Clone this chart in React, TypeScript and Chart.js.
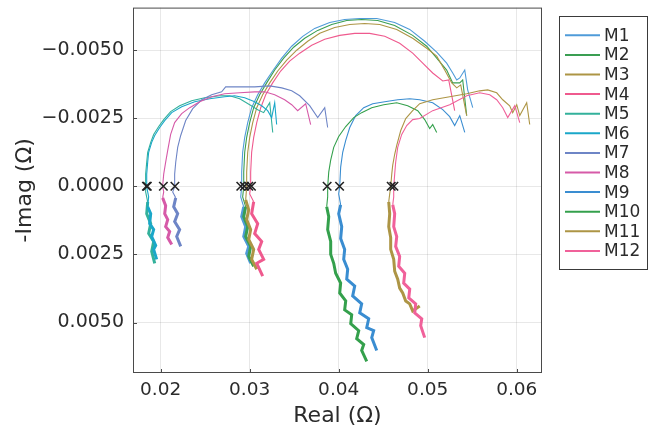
import React, { useEffect, useRef } from "react";
import { Chart, registerables } from "chart.js";

Chart.register(...registerables);

const seriesNames = ["M1", "M2", "M3", "M4", "M5", "M6", "M7", "M8", "M9", "M10", "M11", "M12"];
const seriesColors = ["#4f9bd9", "#3a9e52", "#ad9545", "#ef5a8e", "#33b19b", "#1aa7c9", "#6e85c6", "#d65aa8", "#3a8dd1", "#34a04c", "#ad9545", "#f0619a"];

const m1Real = [0.03011,0.02966,0.02989,0.02933,0.02955,0.02910,0.02933,0.02899,0.02910,0.02910,0.02921,0.02944,0.02978,0.03022,0.03090,0.03169,0.03258,0.03360,0.03472,0.03596,0.03730,0.03899,0.04067,0.04236,0.04427,0.04629,0.04798,0.04966,0.05101,0.05213,0.05281,0.05326,0.05360,0.05416,0.05449,0.05506];
const m1NegImag = [0.002825,0.002462,0.002207,0.001844,0.001480,0.001116,0.000753,0.000389,0.000025,-0.000520,-0.001247,-0.001793,-0.002338,-0.002884,-0.003356,-0.003793,-0.004229,-0.004702,-0.005138,-0.005502,-0.005793,-0.006011,-0.006120,-0.006156,-0.006156,-0.006011,-0.005756,-0.005320,-0.004920,-0.004520,-0.004156,-0.003902,-0.003975,-0.004265,-0.003538,-0.002884];

const m2Real = [0.03045,0.02989,0.03011,0.02955,0.02978,0.02933,0.02955,0.02921,0.02933,0.02933,0.02944,0.02966,0.03000,0.03045,0.03112,0.03191,0.03281,0.03382,0.03494,0.03618,0.03764,0.03921,0.04090,0.04258,0.04438,0.04629,0.04831,0.04989,0.05101,0.05213,0.05281,0.05360,0.05393,0.05438];
const m2NegImag = [0.002935,0.002571,0.002207,0.001844,0.001480,0.001116,0.000753,0.000389,0.000025,-0.000520,-0.001247,-0.001793,-0.002338,-0.002884,-0.003356,-0.003793,-0.004265,-0.004702,-0.005102,-0.005429,-0.005720,-0.005938,-0.006084,-0.006120,-0.006084,-0.005902,-0.005538,-0.005138,-0.004702,-0.004265,-0.003793,-0.003793,-0.003902,-0.002593];

const m3Real = [0.03079,0.03022,0.03045,0.02989,0.03011,0.02966,0.02989,0.02955,0.02966,0.02966,0.02978,0.03000,0.03034,0.03079,0.03146,0.03225,0.03315,0.03416,0.03528,0.03652,0.03787,0.03955,0.04124,0.04292,0.04461,0.04652,0.04831,0.04989,0.05101,0.05191,0.05270,0.05326,0.05371,0.05416,0.05438];
const m3NegImag = [0.003044,0.002680,0.002316,0.001953,0.001589,0.001225,0.000862,0.000498,0.000025,-0.000520,-0.001247,-0.001793,-0.002338,-0.002884,-0.003356,-0.003793,-0.004229,-0.004629,-0.004993,-0.005320,-0.005611,-0.005829,-0.005938,-0.005975,-0.005938,-0.005756,-0.005429,-0.005065,-0.004775,-0.004265,-0.003793,-0.003611,-0.003720,-0.002956,-0.002593];

const m4Real = [0.03146,0.03079,0.03157,0.03101,0.03135,0.03056,0.03090,0.03022,0.03045,0.03000,0.03011,0.03011,0.03022,0.03045,0.03079,0.03124,0.03180,0.03258,0.03348,0.03449,0.03562,0.03697,0.03843,0.04011,0.04180,0.04348,0.04517,0.04685,0.04831,0.04944,0.05056,0.05169,0.05236,0.05303];
const m4NegImag = [0.003298,0.002825,0.002680,0.002316,0.002025,0.001735,0.001371,0.001007,0.000571,0.000280,0.000025,-0.000520,-0.001247,-0.001793,-0.002338,-0.002884,-0.003356,-0.003793,-0.004229,-0.004593,-0.004884,-0.005175,-0.005393,-0.005538,-0.005611,-0.005611,-0.005502,-0.005247,-0.004884,-0.004520,-0.004156,-0.003865,-0.003902,-0.002775];

const m5Real = [0.01933,0.01899,0.01921,0.01865,0.01888,0.01843,0.01854,0.01831,0.01831,0.01831,0.01843,0.01854,0.01888,0.01921,0.01978,0.02034,0.02112,0.02213,0.02348,0.02494,0.02663,0.02775,0.02888,0.03000,0.03090,0.03157,0.03225,0.03259];
const m5NegImag = [0.002825,0.002389,0.002025,0.001735,0.001371,0.001007,0.000571,0.000207,0.000025,-0.000447,-0.000884,-0.001247,-0.001611,-0.001902,-0.002193,-0.002447,-0.002738,-0.002956,-0.003138,-0.003247,-0.003320,-0.003320,-0.003211,-0.002993,-0.002811,-0.002702,-0.003065,-0.001975];

const m6Real = [0.01955,0.01921,0.01944,0.01899,0.01921,0.01876,0.01888,0.01854,0.01865,0.01843,0.01843,0.01854,0.01865,0.01899,0.01933,0.01989,0.02045,0.02124,0.02236,0.02382,0.02551,0.02719,0.02831,0.02944,0.03056,0.03135,0.03202,0.03247,0.03281,0.03303];
const m6NegImag = [0.002680,0.002316,0.002171,0.001844,0.001589,0.001371,0.001007,0.000753,0.000389,0.000025,-0.000447,-0.000884,-0.001247,-0.001611,-0.001865,-0.002156,-0.002411,-0.002702,-0.002920,-0.003102,-0.003211,-0.003284,-0.003320,-0.003247,-0.003102,-0.002956,-0.002775,-0.002520,-0.003065,-0.002265];

const m7Real = [0.02225,0.02180,0.02213,0.02157,0.02191,0.02146,0.02169,0.02135,0.02157,0.02157,0.02169,0.02191,0.02225,0.02281,0.02360,0.02461,0.02573,0.02685,0.02730,0.02888,0.03056,0.03225,0.03360,0.03472,0.03562,0.03674,0.03764,0.03843,0.03876];
const m7NegImag = [0.002207,0.001844,0.001589,0.001298,0.001007,0.000753,0.000425,0.000207,0.000025,-0.000447,-0.000884,-0.001429,-0.001865,-0.002411,-0.002847,-0.003175,-0.003356,-0.003465,-0.003647,-0.003647,-0.003647,-0.003684,-0.003611,-0.003502,-0.003320,-0.002956,-0.002520,-0.002884,-0.002156];

const m8Real = [0.02124,0.02079,0.02101,0.02056,0.02079,0.02045,0.02056,0.02022,0.02034,0.02022,0.02034,0.02056,0.02079,0.02112,0.02157,0.02236,0.02326,0.02438,0.02573,0.02719,0.02888,0.03056,0.03169,0.03281,0.03393,0.03472,0.03539,0.03629,0.03685];
const m8NegImag = [0.002135,0.001880,0.001662,0.001480,0.001225,0.001007,0.000716,0.000425,0.000207,-0.000011,-0.000447,-0.000884,-0.001320,-0.001902,-0.002338,-0.002665,-0.002884,-0.003102,-0.003284,-0.003393,-0.003429,-0.003465,-0.003465,-0.003356,-0.003175,-0.002993,-0.002775,-0.003029,-0.002265];

const m9Real = [0.04427,0.04371,0.04393,0.04315,0.04337,0.04236,0.04258,0.04157,0.04180,0.04090,0.04101,0.04056,0.04067,0.04022,0.04034,0.04000,0.04022,0.04000,0.04011,0.04022,0.04045,0.04079,0.04124,0.04191,0.04281,0.04382,0.04517,0.04663,0.04798,0.04910,0.05056,0.05169,0.05247,0.05303,0.05360,0.05416];
const m9NegImag = [0.006025,0.005553,0.005298,0.005189,0.004862,0.004644,0.004316,0.004025,0.003662,0.003407,0.003044,0.002680,0.002316,0.001916,0.001480,0.001007,0.000680,0.000280,0.000025,-0.000702,-0.001247,-0.001684,-0.002156,-0.002593,-0.002884,-0.003029,-0.003102,-0.003175,-0.003211,-0.003175,-0.003065,-0.002811,-0.002556,-0.002229,-0.002593,-0.001975];

const m10Real = [0.04315,0.04258,0.04281,0.04202,0.04225,0.04135,0.04146,0.04067,0.04079,0.04011,0.04022,0.03966,0.03944,0.03910,0.03910,0.03876,0.03888,0.03865,0.03876,0.03876,0.03888,0.03910,0.03944,0.04000,0.04079,0.04169,0.04258,0.04371,0.04506,0.04652,0.04775,0.04888,0.04966,0.05022,0.05056,0.05101];
const m10NegImag = [0.006425,0.006025,0.005807,0.005589,0.005298,0.005044,0.004716,0.004535,0.004207,0.003916,0.003553,0.003189,0.002825,0.002498,0.002025,0.001589,0.001116,0.000753,0.000389,0.000025,-0.000520,-0.000956,-0.001429,-0.001829,-0.002193,-0.002520,-0.002702,-0.002884,-0.002993,-0.003065,-0.002956,-0.002775,-0.002447,-0.002120,-0.002265,-0.001975];

const m11Real = [0.04910,0.04831,0.04798,0.04753,0.04719,0.04685,0.04663,0.04629,0.04618,0.04584,0.04584,0.04562,0.04573,0.04562,0.04573,0.04584,0.04596,0.04607,0.04629,0.04652,0.04697,0.04753,0.04831,0.04910,0.05056,0.05247,0.05438,0.05584,0.05674,0.05775,0.05843,0.05921,0.05955,0.06000,0.06034,0.06112,0.06146];
const m11NegImag = [0.004389,0.004571,0.004316,0.004207,0.003916,0.003735,0.003407,0.003116,0.002680,0.002316,0.001880,0.001480,0.001007,0.000571,0.000280,0.000025,-0.000447,-0.000775,-0.001175,-0.001502,-0.002047,-0.002484,-0.002775,-0.003029,-0.003175,-0.003284,-0.003393,-0.003502,-0.003538,-0.003429,-0.003175,-0.002956,-0.002702,-0.002993,-0.002593,-0.003065,-0.002265];

const m12Real = [0.04966,0.04921,0.04933,0.04854,0.04865,0.04787,0.04798,0.04730,0.04742,0.04674,0.04685,0.04640,0.04652,0.04618,0.04629,0.04607,0.04618,0.04618,0.04629,0.04640,0.04663,0.04708,0.04764,0.04831,0.04910,0.05056,0.05247,0.05438,0.05584,0.05697,0.05775,0.05843,0.05899,0.05978,0.06034];
const m12NegImag = [0.005553,0.005116,0.004862,0.004644,0.004316,0.004098,0.003771,0.003553,0.003189,0.002935,0.002571,0.002207,0.001844,0.001480,0.001007,0.000680,0.000389,0.000025,-0.000447,-0.000884,-0.001429,-0.001902,-0.002229,-0.002447,-0.002484,-0.002775,-0.002993,-0.003320,-0.003429,-0.003356,-0.003175,-0.002884,-0.002520,-0.002956,-0.002338];

// zero-crossing markers (×), one per series
const crossReal = [0.0290, 0.0294, 0.0299, 0.0302, 0.0184, 0.0185, 0.0216, 0.0203, 0.0401, 0.0387, 0.0459, 0.0462];
const crossNegImag = [0, 0, 0, 0, 0, 0, 0, 0, 0, 0, 0, 0];

const xTicks = [0.02, 0.03, 0.04, 0.05, 0.06];
const yTicks = [-0.005, -0.0025, 0, 0.0025, 0.005];
const xRange = [0.01689, 0.06284];
const yRange = [-0.006556, 0.006851];

const seriesReal = [m1Real, m2Real, m3Real, m4Real, m5Real, m6Real, m7Real, m8Real, m9Real, m10Real, m11Real, m12Real];
const seriesNegImag = [m1NegImag, m2NegImag, m3NegImag, m4NegImag, m5NegImag, m6NegImag, m7NegImag, m8NegImag, m9NegImag, m10NegImag, m11NegImag, m12NegImag];

const FONT = "'DejaVu Sans', sans-serif";
const TEXT = "#2b2b2b";

const fmtY = (v: number) => (v < 0 ? "\u2212" + Math.abs(v).toFixed(4) : Math.abs(v).toFixed(4));

const framePlugin = {
  id: "frameAndLegend",
  afterDraw(chart: any) {
    const { ctx, chartArea: a, scales } = chart;
    ctx.save();
    ctx.strokeStyle = "#4a4a4a";
    ctx.lineWidth = 1;
    ctx.strokeRect(a.left + 0.5, a.top + 0.5, a.right - a.left - 1, a.bottom - a.top - 1);
    ctx.beginPath();
    yTicks.forEach((v) => {
      const p = Math.round(scales.y.getPixelForValue(v)) + 0.5;
      ctx.moveTo(a.left, p);
      ctx.lineTo(a.left + 4, p);
    });
    xTicks.forEach((v) => {
      const p = Math.round(scales.x.getPixelForValue(v)) + 0.5;
      ctx.moveTo(p, a.bottom);
      ctx.lineTo(p, a.bottom - 4);
    });
    ctx.stroke();

    // legend
    const lx = 559, ly = 16, lw = 89, lh = 254;
    ctx.fillStyle = "#ffffff";
    ctx.fillRect(lx, ly, lw, lh);
    ctx.strokeStyle = "#3a3a3a";
    ctx.strokeRect(lx + 0.5, ly + 0.5, lw - 1, lh - 1);
    ctx.font = "17px " + FONT;
    ctx.textBaseline = "middle";
    ctx.textAlign = "left";
    seriesNames.forEach((name, i) => {
      const y = 35.3 + i * 19.6;
      ctx.strokeStyle = seriesColors[i];
      ctx.lineWidth = 2;
      ctx.beginPath();
      ctx.moveTo(565, y);
      ctx.lineTo(600, y);
      ctx.stroke();
      ctx.fillStyle = TEXT;
      ctx.fillText(name, 604, y + 1);
    });
    ctx.restore();
  },
};

export default function App() {
  const ref = useRef<HTMLCanvasElement>(null);
  useEffect(() => {
    document.body.style.margin = "0";
    const datasets: any[] = seriesNames.map((name, i) => ({
      label: name,
      data: seriesReal[i].map((x, k) => ({ x, y: seriesNegImag[i][k] })),
      showLine: true,
      borderColor: seriesColors[i],
      backgroundColor: seriesColors[i],
      borderWidth: 1.1,
      pointRadius: 0,
      tension: 0,
      order: 100 - i,
      segment: {
        borderWidth: (c: any) => (c.p0.parsed.y > 0.0004 && c.p1.parsed.y > 0.0004 ? 3 : 1.1),
      },
    }));
    datasets.push({
      label: "markers",
      data: crossReal.map((x, k) => ({ x, y: crossNegImag[k] })),
      showLine: false,
      pointStyle: "crossRot",
      pointRadius: 6,
      borderColor: "#222222",
      backgroundColor: "#222222",
      pointBorderWidth: 1.6,
      borderWidth: 1.6,
      order: 0,
    });
    const chart = new Chart(ref.current as HTMLCanvasElement, {
      type: "scatter",
      data: { datasets },
      options: {
        animation: false,
        responsive: false,
        devicePixelRatio: 1,
        events: [],
        layout: { padding: { left: 0, top: 4, right: 107, bottom: 0 } },
        plugins: { legend: { display: false }, tooltip: { enabled: false } },
        scales: {
          x: {
            type: "linear",
            min: xRange[0],
            max: xRange[1],
            afterFit: (s: any) => { s.height = 59; s.paddingLeft = 0; s.paddingRight = 0; },
            afterBuildTicks: (s: any) => { s.ticks = xTicks.map((v) => ({ value: v })); },
            ticks: {
              callback: (v: any) => Number(v).toFixed(2),
              font: { family: FONT, size: 18.5 },
              color: TEXT,
              padding: 6,
              maxRotation: 0,
              autoSkip: false,
            },
            grid: { color: "rgba(0,0,0,0.09)", drawTicks: false },
            border: { display: false },
            title: { display: true, text: "Real (Ω)", font: { family: FONT, size: 22 }, color: TEXT, padding: { top: 0, bottom: 3 } },
          },
          y: {
            type: "linear",
            reverse: true,
            min: yRange[0],
            max: yRange[1],
            afterFit: (s: any) => { s.width = 133; s.paddingTop = 0; s.paddingBottom = 0; },
            afterBuildTicks: (s: any) => { s.ticks = yTicks.map((v) => ({ value: v })); },
            ticks: {
              callback: (v: any) => fmtY(Number(v)),
              font: { family: FONT, size: 19 },
              color: TEXT,
              padding: 9,
              autoSkip: false,
            },
            grid: { color: "rgba(0,0,0,0.09)", drawTicks: false },
            border: { display: false },
            title: { display: true, text: "-Imag (Ω)", font: { family: FONT, size: 22 }, color: TEXT, padding: { top: 12, bottom: 0 } },
          },
        },
      },
      plugins: [framePlugin],
    });
    return () => chart.destroy();
  }, []);
  return <canvas ref={ref} width={649} height={432} style={{ display: "block" }} />;
}
